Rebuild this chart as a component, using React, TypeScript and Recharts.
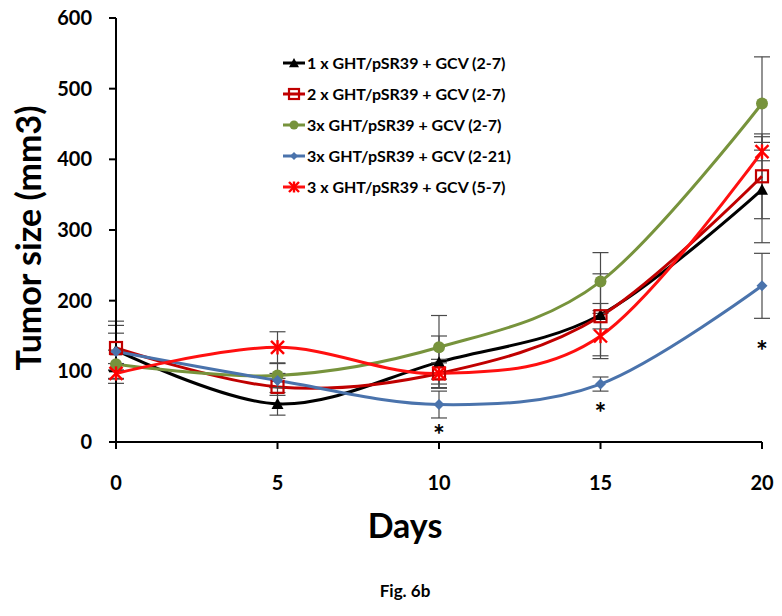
import React from 'react';
import { LineChart, Line, XAxis, YAxis, ErrorBar, Legend, Label } from 'recharts';

const days = [0, 5, 10, 15, 20];
const oneX27 = [130, 54, 113, 180, 357];
const oneX27Err = [41, 16, 37, 58, 75];
const twoX27 = [133, 78, 97, 178, 376];
const twoX27Err = [32, 12, 20, 18, 60];
const threeX27 = [110, 94, 134, 227, 479];
const threeX27Err = [20, 17, 45, 41, 66];
const threeX221 = [128, 87, 53, 82, 221];
const threeX221Err = [26, 10, 19, 10, 46];
const threeX57 = [97, 134, 97, 150, 411];
const threeX57Err = [14, 22, 15, 32, 13];
const starPos = [null, null, 17, 48, 137];
const starText = ['', '', '*', '*', '*'];
const xTicks = [0, 5, 10, 15, 20];
const yTicks = [0, 100, 200, 300, 400, 500, 600];

const FONT = 'Lato, "Open Sans", sans-serif';

const data = days.map((d, i) => ({
  day: d,
  s1: oneX27[i], e1: oneX27Err[i],
  s2: twoX27[i], e2: twoX27Err[i],
  s3: threeX27[i], e3: threeX27Err[i],
  s4: threeX221[i], e4: threeX221Err[i],
  s5: threeX57[i], e5: threeX57Err[i],
  star: starPos[i], starLabel: starText[i],
}));

// Excel-like smoothing (Catmull-Rom / cardinal tension 0)
function excelSmooth(context: any) {
  let x0 = NaN, y0 = NaN, x1 = NaN, y1 = NaN, x2 = NaN, y2 = NaN, pt = 0, line: number = NaN;
  const k = 1 / 6;
  const seg = (x: number, y: number) => {
    context.bezierCurveTo(x1 + k * (x2 - x0), y1 + k * (y2 - y0), x2 + k * (x1 - x), y2 + k * (y1 - y), x2, y2);
  };
  return {
    areaStart() { line = 0; },
    areaEnd() { line = NaN; },
    lineStart() { x0 = x1 = x2 = y0 = y1 = y2 = NaN; pt = 0; },
    lineEnd() {
      if (pt === 2) context.lineTo(x2, y2);
      else if (pt === 3) seg(x1, y1);
      if (line || (line !== 0 && pt === 1)) context.closePath();
      line = 1 - line;
    },
    point(x: number, y: number) {
      x = +x; y = +y;
      if (pt === 0) { pt = 1; if (line) context.lineTo(x, y); else context.moveTo(x, y); }
      else if (pt === 1) { pt = 2; x1 = x; y1 = y; }
      else { pt = 3; seg(x, y); }
      x0 = x1; x1 = x2; x2 = x;
      y0 = y1; y1 = y2; y2 = y;
    },
  };
}

const markerShape = (kind: string, cx: number, cy: number, color: string, s: number) => {
  switch (kind) {
    case 'triangle':
      return <polygon points={`${cx},${cy - s} ${cx + s},${cy + s * 0.85} ${cx - s},${cy + s * 0.85}`} fill={color} />;
    case 'square':
      return <rect x={cx - s} y={cy - s} width={2 * s} height={2 * s} fill="none" stroke={color} strokeWidth={2.2} />;
    case 'circle':
      return <circle cx={cx} cy={cy} r={s} fill={color} />;
    case 'diamond':
      return <polygon points={`${cx},${cy - s} ${cx + s},${cy} ${cx},${cy + s} ${cx - s},${cy}`} fill={color} />;
    case 'star':
      return (
        <g stroke={color} strokeWidth={2.4}>
          <line x1={cx - s} y1={cy - s} x2={cx + s} y2={cy + s} />
          <line x1={cx - s} y1={cy + s} x2={cx + s} y2={cy - s} />
          <line x1={cx} y1={cy - s * 1.1} x2={cx} y2={cy + s * 1.1} />
        </g>
      );
    default:
      return null;
  }
};

const series = [
  { key: 's1', err: 'e1', name: '1 x GHT/pSR39 + GCV (2-7)', color: '#000000', marker: 'triangle', size: 6, lsize: 5 },
  { key: 's2', err: 'e2', name: '2 x GHT/pSR39 + GCV (2-7)', color: '#C00000', marker: 'square', size: 6, lsize: 5 },
  { key: 's3', err: 'e3', name: '3x GHT/pSR39 + GCV (2-7)', color: '#77933C', marker: 'circle', size: 6, lsize: 4.5 },
  { key: 's4', err: 'e4', name: '3x GHT/pSR39 + GCV (2-21)', color: '#4A73AC', marker: 'diamond', size: 5.5, lsize: 4 },
  { key: 's5', err: 'e5', name: '3 x GHT/pSR39 + GCV (5-7)', color: '#FF0000', marker: 'star', size: 6.5, lsize: 5 },
];

const lineColorOf = (s: any) => (s.key === 's5' ? '#FF1010' : s.color);

const LegendBox = () => (
  <div style={{ fontFamily: FONT, fontWeight: 700, fontSize: 16, color: '#000' }}>
    {series.map((s) => (
      <div key={s.key} style={{ display: 'flex', alignItems: 'center', height: 31 }}>
        <svg width={24} height={16} style={{ display: 'block' }}>
          <line x1={1} y1={8} x2={23} y2={8} stroke={lineColorOf(s)} strokeWidth={3} />
          {markerShape(s.marker, 12, 8, s.color, s.lsize)}
        </svg>
        <span style={{ marginLeft: 1, whiteSpace: 'nowrap' }}>{s.name}</span>
      </div>
    ))}
  </div>
);

const makeDot = (s: any) => (props: any) => {
  const { cx, cy, index } = props;
  if (cx == null || cy == null) return <g key={`${s.key}-${index}`} />;
  return <g key={`${s.key}-${index}`}>{markerShape(s.marker, cx, cy, s.color, s.size)}</g>;
};

const starDot = (props: any) => {
  const { cx, cy, index, payload } = props;
  if (cx == null || cy == null || !payload || !payload.starLabel) return <g key={`star-${index}`} />;
  return (
    <text key={`star-${index}`} x={cx} y={cy} dy="0.55em" textAnchor="middle" fontFamily={FONT} fontWeight={700} fontSize={28} fill="#000">
      {payload.starLabel}
    </text>
  );
};

const tickStyle = { fontFamily: FONT, fontWeight: 700, fontSize: 20, fill: '#000' };

export default function App() {
  return (
    <div style={{ position: 'absolute', left: 0, top: 0, width: 782, height: 616, background: '#fff' }}>
      <LineChart width={782} height={616} data={data} margin={{ top: 18, right: 20, left: 0, bottom: 144 }}>
        <XAxis
          dataKey="day"
          type="number"
          domain={[0, 20]}
          ticks={xTicks}
          height={30}
          tick={tickStyle}
          tickSize={7}
          tickMargin={27}
          axisLine={{ stroke: '#000', strokeWidth: 2 }}
          tickLine={{ stroke: '#000', strokeWidth: 2 }}
        >
          <Label
            content={(p: any) => {
              const vb = p.viewBox;
              return (
                <text x={vb.x + vb.width / 2 - 34} y={vb.y + 96} textAnchor="middle" fontFamily={FONT} fontWeight={700} fontSize={34} fill="#000">
                  Days
                </text>
              );
            }}
          />
        </XAxis>
        <YAxis
          type="number"
          domain={[0, 600]}
          ticks={yTicks}
          width={116}
          tick={tickStyle}
          tickSize={7}
          tickMargin={17}
          axisLine={{ stroke: '#000', strokeWidth: 2 }}
          tickLine={{ stroke: '#000', strokeWidth: 2 }}
        >
          <Label
            content={(p: any) => {
              const vb = p.viewBox;
              const x = vb.x + 27;
              const y = vb.y + vb.height / 2 + 8;
              return (
                <text x={x} y={y} transform={`rotate(-90, ${x}, ${y})`} textAnchor="middle" dominantBaseline="central" fontFamily={FONT} fontWeight={700} fontSize={34} fill="#000">
                  Tumor size (mm3)
                </text>
              );
            }}
          />
        </YAxis>
        <Legend
          layout="vertical"
          align="center"
          verticalAlign="middle"
          content={() => <LegendBox />}
          wrapperStyle={{ top: 47, left: 282, width: 'auto', height: 'auto' }}
        />
        {series.map((s) => (
          <Line
            key={s.key}
            dataKey={s.key}
            name={s.name}
            type={excelSmooth as any}
            stroke={lineColorOf(s)}
            strokeWidth={3}
            dot={makeDot(s)}
            activeDot={false}
            isAnimationActive={false}
          >
            <ErrorBar dataKey={s.err} width={8} stroke="#4a4a4a" strokeWidth={1.2} direction="y" isAnimationActive={false} />
          </Line>
        ))}
        <Line
          dataKey="star"
          stroke="none"
          legendType="none"
          dot={starDot}
          activeDot={false}
          isAnimationActive={false}
        />
      </LineChart>
      <div style={{ position: 'absolute', left: 355, top: 580, width: 100, textAlign: 'center', fontFamily: FONT, fontWeight: 700, fontSize: 17, color: '#000' }}>
        Fig. 6b
      </div>
    </div>
  );
}
